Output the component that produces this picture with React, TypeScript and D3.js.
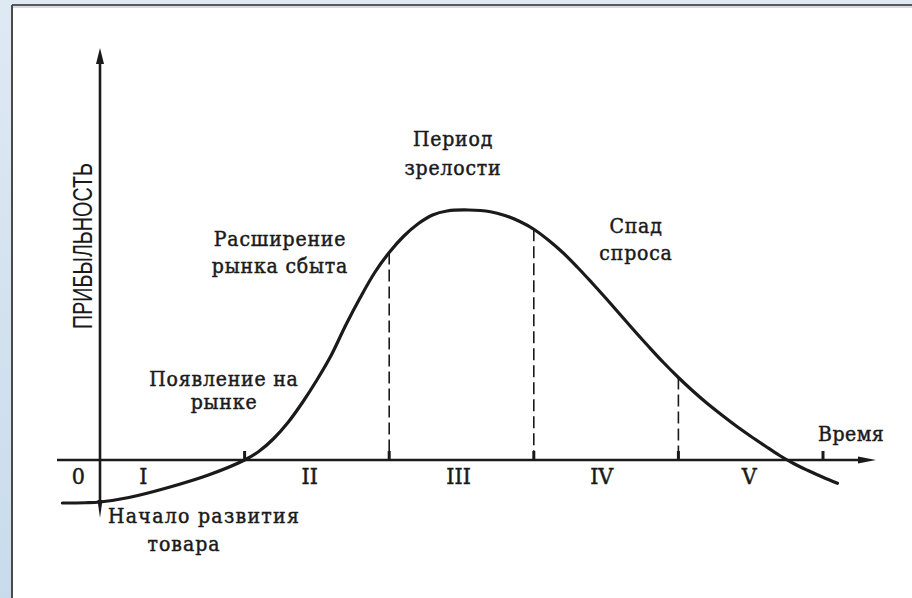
import React from 'react';
import * as d3 from 'd3';

// product life cycle: time (stage units) vs profit (relative)
const timeValues = [-0.26, -0.1, 0, 0.2, 0.46, 0.75, 1, 1.1, 1.2, 1.3, 1.4, 1.5, 1.6, 1.7, 1.8, 1.9, 2, 2.1, 2.2, 2.3, 2.4, 2.55, 2.7, 2.8, 2.9, 3, 3.1, 3.2, 3.3, 3.4, 3.5, 3.6, 3.7, 3.8, 3.9, 4, 4.1, 4.2, 4.3, 4.4, 4.5, 4.6, 4.7, 4.8, 4.9, 5, 5.1];
const profitValues = [-17.2, -17.1, -16.8, -15, -11.2, -6, 0, 3.5, 8.5, 15, 23, 32, 42, 54, 65, 75, 83, 89.5, 94.5, 98, 99.6, 100, 99.3, 97.8, 95.5, 92.3, 88, 83, 77.2, 71, 64.6, 58, 51.4, 45, 38.8, 33, 27.6, 22.6, 18, 13.6, 9.5, 5.6, 1.8, -1.5, -4.3, -6.9, -9.3];

const stageBounds = [1, 2, 3, 4, 5];
const dashedBounds = [2, 3, 4];
const stageNames = ['0', 'I', 'II', 'III', 'IV', 'V'];
const stageNameAt = [-0.15, 0.3, 1.45, 2.48, 3.47, 4.49];

const phaseNames = [
  ['Появление на', 'рынке'],
  ['Расширение', 'рынка сбыта'],
  ['Период', 'зрелости'],
  ['Спад', 'спроса'],
];

const W = 912;
const H = 598;

// label layout (pixels)
const phasePos = [
  { x: 224, y: 386, gap: 23 },
  { x: 280, y: 246, gap: 27 },
  { x: 453, y: 146, gap: 29 },
  { x: 636, y: 233, gap: 27 },
];

const serif = "'DejaVu Serif Condensed', 'DejaVu Serif', serif";
const ink = '#1a1a1a';

const App = () => {
  const x = d3.scaleLinear().domain([0, 5]).range([100, 823]);
  const y = d3.scaleLinear().domain([0, 100]).range([460, 210]);

  const pts: [number, number][] = timeValues.map((t, i) => [t, profitValues[i]]);
  const line = d3.line<[number, number]>()
    .x(d => x(d[0]))
    .y(d => y(d[1]))
    .curve(d3.curveCatmullRom.alpha(0.5));

  const y0 = y(0);
  const x0 = x(0);
  const axisLeft = 57;
  const axisRight = 876;
  const axisTop = 48;

  const txt = { fontFamily: serif, fill: ink, stroke: ink, strokeWidth: 0.45 };

  return (
    <svg width={W} height={H} style={{ position: 'absolute', left: 0, top: 0 }}>
      <defs>
        <linearGradient id="bg" x1="0" y1="0" x2="0" y2="1">
          <stop offset="0" stopColor="#dfe9f3" />
          <stop offset="1" stopColor="#c9dbeb" />
        </linearGradient>
      </defs>
      <rect x={0} y={0} width={W} height={H} fill="url(#bg)" />
      <rect x={12} y={5} width={W - 12} height={H - 5} fill="#fff" />
      <line x1={12} y1={5} x2={W} y2={5} stroke="#5a5a5a" strokeWidth={2} />
      <line x1={13} y1={7} x2={W} y2={7} stroke="#b8b8b8" strokeWidth={1} />
      <line x1={12} y1={5} x2={12} y2={H} stroke="#4a4a4a" strokeWidth={2} />

      {/* axes */}
      <line x1={x0} y1={axisTop + 10} x2={x0} y2={503} stroke={ink} strokeWidth={2.6} />
      <path d={`M${x0},${axisTop} L${x0 + 4},${axisTop + 16} L${x0 - 4},${axisTop + 16} Z`} fill={ink} />
      <path d={`M${x0 - 2.5},500 L${x0 + 2.5},500 L${x0},518 Z`} fill={ink} />
      <line x1={axisLeft} y1={y0} x2={axisRight - 10} y2={y0} stroke={ink} strokeWidth={2.6} />
      <path d={`M${axisRight},${y0} L${axisRight - 18},${y0 - 3.5} L${axisRight - 18},${y0 + 3.5} Z`} fill={ink} />

      {/* stage boundaries */}
      {stageBounds.map(b => (
        <rect key={'t' + b} x={x(b) - 1.5} y={y0 - 9} width={3} height={9} fill={ink} />
      ))}
      {dashedBounds.map(b => {
        const v = profitValues[timeValues.indexOf(b)];
        return (
          <line key={'d' + b} x1={x(b)} y1={y(v)} x2={x(b)} y2={y0}
            stroke={ink} strokeWidth={1.6} strokeDasharray="12 5" />
        );
      })}

      {/* curve */}
      <path d={line(pts) ?? ''} fill="none" stroke={ink} strokeWidth={3.2} strokeLinecap="round" />

      {/* stage numbers */}
      {stageNames.map((s, i) => (
        <text key={s} x={x(stageNameAt[i])} y={484} textAnchor="middle" fontSize={23} {...txt}>{s}</text>
      ))}

      {/* phase labels */}
      {phaseNames.map((lines, i) => (
        <text key={i} textAnchor="middle" fontSize={21} letterSpacing={0.8} {...txt}>
          {lines.map((l, j) => (
            <tspan key={j} x={phasePos[i].x} y={phasePos[i].y + j * phasePos[i].gap}>{l}</tspan>
          ))}
        </text>
      ))}

      <text x={108} y={523} fontSize={21} letterSpacing={1.3} {...txt}>Начало развития</text>
      <text x={184} y={551} textAnchor="middle" fontSize={21} letterSpacing={1} {...txt}>товара</text>
      <text x={818} y={441} fontSize={21} letterSpacing={0.5} {...txt}>Время</text>

      <text transform="translate(92,246) rotate(-90)" textAnchor="middle"
        fontFamily="'Liberation Sans', Arial, sans-serif" fontSize={27} fill={ink}
        textLength={166} lengthAdjust="spacingAndGlyphs">ПРИБЫЛЬНОСТЬ</text>
    </svg>
  );
};

export default App;
